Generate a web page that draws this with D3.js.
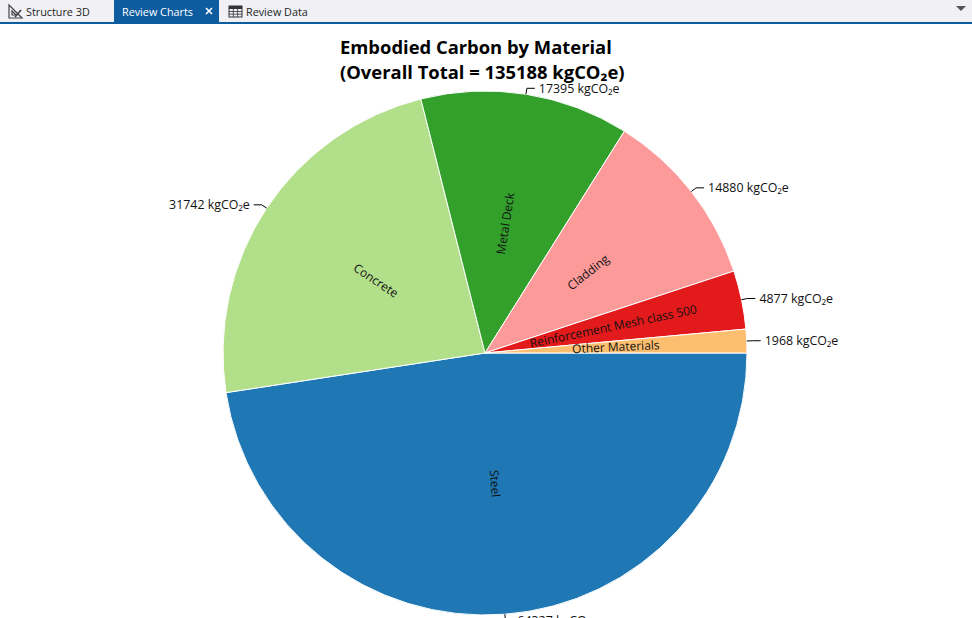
<!DOCTYPE html>
<html>
<head>
<meta charset="utf-8">
<script src="https://cdn.jsdelivr.net/npm/d3@7"></script>
<style>
  body { margin: 0; background: #fff; }
  svg { display: block; font-family: "Open Sans", "Noto Sans", sans-serif; }
</style>
</head>
<body>
<svg id="chart" width="972" height="618"></svg>
<script>
// material breakdown, order is clockwise from 3 o'clock
var materials = ["Steel", "Concrete", "Metal Deck", "Cladding", "Reinforcement Mesh class 500", "Other Materials"]
var carbon = [64327, 31742, 17395, 14880, 4877, 1968]
var colors = ["#1f78b4", "#b2df8a", "#33a02c", "#fb9a99", "#e31a1c", "#fdbf6f"]
var overallTotal = 135188
var tabs = ["Structure 3D", "Review Charts", "Review Data"]

var width = 972, height = 618
var cx = 485, cy = 353, radius = 262
var svg = d3.select("#chart")

// tab strip
var bar = svg.append("g")
bar.append("rect").attr("width", width).attr("height", 22).attr("fill", "#f0f0f5")
bar.append("rect").attr("x", 114).attr("width", 105).attr("height", 22).attr("fill", "#0e5ca0")
bar.append("rect").attr("y", 22).attr("width", width).attr("height", 2).attr("fill", "#0e5ca0")
var tabX = [26, 122, 246]
bar.selectAll("text.tab").data(tabs).join("text")
    .attr("class", "tab")
    .attr("x", function(d, i) { return tabX[i] })
    .attr("y", 16)
    .attr("font-size", "10.8px")
    .attr("fill", function(d, i) { return i == 1 ? "#ffffff" : "#1e1e1e" })
    .text(function(d) { return d })
// close cross on active tab
bar.append("path").attr("d", "M206,8L212,14M212,8L206,14")
    .attr("stroke", "#fff").attr("stroke-width", 1.6)
// ruler icon
bar.append("path").attr("d", "M9,5L9,18L22,18Z M12,11L12,15L16,15Z")
    .attr("fill", "none").attr("stroke", "#444").attr("stroke-width", 1.2)
bar.append("path").attr("d", "M15,17L21,10").attr("stroke", "#444").attr("stroke-width", 1.6)
// grid icon
var grid = bar.append("g").attr("transform", "translate(229,6)")
grid.append("rect").attr("width", 13).attr("height", 11).attr("fill", "none").attr("stroke", "#333")
grid.append("rect").attr("width", 13).attr("height", 3).attr("fill", "#333")
;[4.3, 8.6].forEach(function(x) {
    grid.append("line").attr("x1", x).attr("x2", x).attr("y1", 0).attr("y2", 11).attr("stroke", "#333").attr("stroke-width", 0.8)
})
;[5.5, 8.2].forEach(function(y) {
    grid.append("line").attr("x1", 0).attr("x2", 13).attr("y1", y).attr("y2", y).attr("stroke", "#333").attr("stroke-width", 0.8)
})
bar.append("path").attr("d", "M956,6L966,6L961,11Z").attr("fill", "#555")

// title, both lines start at the same left edge
var title = svg.append("text")
    .attr("font-weight", "bold").attr("font-size", "18.4px").attr("fill", "#000")
title.append("tspan").attr("x", 340).attr("y", 54).text("Embodied Carbon by Material")
title.append("tspan").attr("x", 340).attr("y", 79).text("(Overall Total = " + overallTotal + " kgCO\u2082e)")

// pie
var data = materials.map(function(m, i) { return { name: m, value: carbon[i], color: colors[i] } })
var pie = d3.pie().sort(null).value(function(d) { return d.value })
    .startAngle(Math.PI / 2).endAngle(Math.PI / 2 + 2 * Math.PI)
var arcs = pie(data)
var arc = d3.arc().innerRadius(0).outerRadius(radius)

var g = svg.append("g").attr("transform", "translate(" + cx + "," + cy + ")")
g.selectAll("path.slice").data(arcs).join("path")
    .attr("class", "slice")
    .attr("d", arc)
    .attr("fill", function(d) { return d.data.color })
    .attr("stroke", "#fff")
    .attr("stroke-width", 1)

// names inside, turned along the radius
g.selectAll("text.name").data(arcs).join("text")
    .attr("class", "name")
    .attr("transform", function(d) {
        var c = arc.centroid(d)
        var a = Math.atan2(c[1], c[0]) * 180 / Math.PI
        if (a > 90 || a < -90) a += 180
        return "translate(" + c + ") rotate(" + a + ")"
    })
    .attr("text-anchor", "middle")
    .attr("dy", "0.35em")
    .attr("font-size", "12px")
    .attr("fill", "#111")
    .text(function(d) { return d.data.name })

// value labels with leader lines
var mid = function(d) { return (d.startAngle + d.endAngle) / 2 }
var pt = function(a, r) { return [Math.sin(a) * r, -Math.cos(a) * r] }
var lab = g.selectAll("g.lab").data(arcs).join("g").attr("class", "lab")
lab.append("path")
    .attr("d", function(d) {
        var a = mid(d), p1 = pt(a, radius), p2 = pt(a, radius + 6)
        var s = p2[0] >= 0 ? 1 : -1
        return "M" + p1 + "L" + p2 + "L" + [p2[0] + 8 * s, p2[1]]
    })
    .attr("fill", "none").attr("stroke", "#000").attr("stroke-width", 1)
lab.append("text")
    .attr("x", function(d) { var p = pt(mid(d), radius + 6); return p[0] + (p[0] >= 0 ? 12 : -12) })
    .attr("y", function(d) { return pt(mid(d), radius + 6)[1] })
    .attr("dy", "0.35em")
    .attr("text-anchor", function(d) { return pt(mid(d), 1)[0] >= 0 ? "start" : "end" })
    .attr("font-size", "12.4px")
    .attr("fill", "#111")
    .text(function(d) { return d.data.value + " kgCO\u2082e" })
</script>
</body>
</html>
